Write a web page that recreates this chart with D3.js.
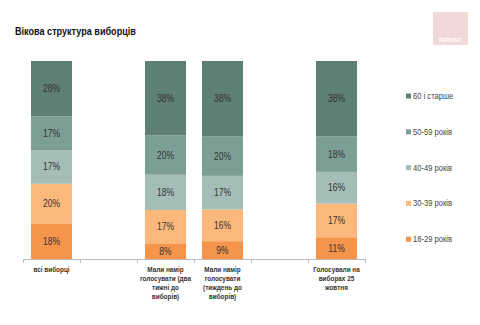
<!DOCTYPE html>
<html>
<head>
<meta charset="utf-8">
<script src="https://cdn.jsdelivr.net/npm/d3@7"></script>
<style>
  body { margin: 0; background: #fff; }
  svg { display: block; font-family: "Liberation Sans", Arial, sans-serif; }
</style>
</head>
<body>
<svg id="chart" width="480" height="325"></svg>
<script>
"use strict";

// age groups, bottom to top of each stack
const groups = ["18-29 років", "30-39 років", "40-49 років", "50-59 років", "60 і старше"];
const colors = ["#f5944b", "#fbb87a", "#a4bdb7", "#7b9f95", "#5e7f74"];

// empty slots keep the gaps between the bars
const categories = [
  "всі виборці",
  "",
  "Мали намір\nголосувати (два\nтижні до\nвиборів)",
  "Мали намір\nголосувати\n(тиждень до\nвиборів)",
  "",
  "Голосували на\nвиборах 25\nжовтня"
];

const age18 = [18, null, 8, 9, null, 11];
const age30 = [20, null, 17, 16, null, 17];
const age40 = [17, null, 18, 17, null, 16];
const age50 = [17, null, 20, 20, null, 18];
const age60 = [28, null, 38, 38, null, 38];

const rows = categories.map((c, i) => ({
  key: i,
  label: c,
  "18-29 років": age18[i] || 0,
  "30-39 років": age30[i] || 0,
  "40-49 років": age40[i] || 0,
  "50-59 років": age50[i] || 0,
  "60 і старше": age60[i] || 0
}));

// no condensed face installed, so squeeze text horizontally
const narrow = (px, py, k) => `translate(${px},${py}) scale(${k},1)`;

const svg = d3.select("#chart");

// title
svg.append("text")
  .attr("transform", narrow(15, 35, 0.79))
  .attr("font-size", 11.5).attr("font-weight", "bold")
  .attr("fill", "#111")
  .text("Вікова структура виборців");

// logo block
const logo = svg.append("g").attr("transform", "translate(433,12)");
logo.append("rect").attr("width", 35).attr("height", 33).attr("fill", "#f0d9d7");
logo.append("text")
  .attr("x", 17.5).attr("y", 30)
  .attr("text-anchor", "middle")
  .attr("font-size", 5).attr("font-weight", "bold")
  .attr("fill", "#fff")
  .text("РЕЙТИНГ");

const x = d3.scaleBand()
  .domain(d3.range(categories.length))
  .range([23, 365])
  .paddingInner(0.28)
  .paddingOuter(0.14);

const y = d3.scaleLinear().domain([0, 1]).range([259, 61]);

const stack = d3.stack().keys(groups).offset(d3.stackOffsetExpand);
const series = stack(rows.filter(r => age18[r.key] != null));

const layer = svg.selectAll("g.layer")
  .data(series)
  .join("g")
  .attr("class", "layer")
  .attr("fill", (d, i) => colors[i]);

layer.selectAll("rect")
  .data(d => d.map(p => ({ p, key: d.key })))
  .join("rect")
  .attr("x", d => x(d.p.data.key))
  .attr("width", x.bandwidth())
  .attr("y", d => y(d.p[1]))
  .attr("height", d => y(d.p[0]) - y(d.p[1]));

layer.selectAll("text")
  .data(d => d.map(p => ({ p, key: d.key })))
  .join("text")
  .attr("transform", d => narrow(x(d.p.data.key) + x.bandwidth() / 2,
                                 (y(d.p[0]) + y(d.p[1])) / 2 + 3.5, 0.85))
  .attr("text-anchor", "middle")
  .attr("font-size", 10)
  .attr("fill", "#333")
  .text(d => d.p.data[d.key] + "%");

// category axis with ticks between slots
const axis = svg.append("g");
axis.append("line")
  .attr("x1", 23).attr("x2", 365)
  .attr("y1", 259.5).attr("y2", 259.5)
  .attr("stroke", "#bbb");
d3.range(categories.length + 1).forEach(i => {
  const tx = Math.round(23 + i * (342 / categories.length)) + 0.5;
  axis.append("line")
    .attr("x1", tx).attr("x2", tx)
    .attr("y1", 259).attr("y2", 263)
    .attr("stroke", "#bbb");
});

const labels = svg.selectAll("text.cat")
  .data(rows)
  .join("text")
  .attr("class", "cat")
  .attr("text-anchor", "middle")
  .attr("font-size", 8)
  .attr("font-weight", "bold")
  .attr("fill", "#333")
  .attr("transform", d => narrow(x(d.key) + x.bandwidth() / 2, 272, 0.8));

labels.selectAll("tspan")
  .data(d => d.label ? d.label.split("\n") : [])
  .join("tspan")
  .attr("x", 0)
  .attr("y", (d, i) => i * 9)
  .text(d => d);

// legend, top group first
const legend = svg.append("g").attr("transform", "translate(406,0)");
const legendRows = groups.slice().reverse();
legendRows.forEach((g, i) => {
  const ly = 99 + i * 35.8;
  legend.append("rect")
    .attr("x", 0).attr("y", ly - 5.5)
    .attr("width", 5).attr("height", 5)
    .attr("fill", colors[groups.indexOf(g)]);
  legend.append("text")
    .attr("transform", narrow(7, ly, 0.8))
    .attr("font-size", 9.5)
    .attr("fill", "#444")
    .text(g);
});
</script>
</body>
</html>
